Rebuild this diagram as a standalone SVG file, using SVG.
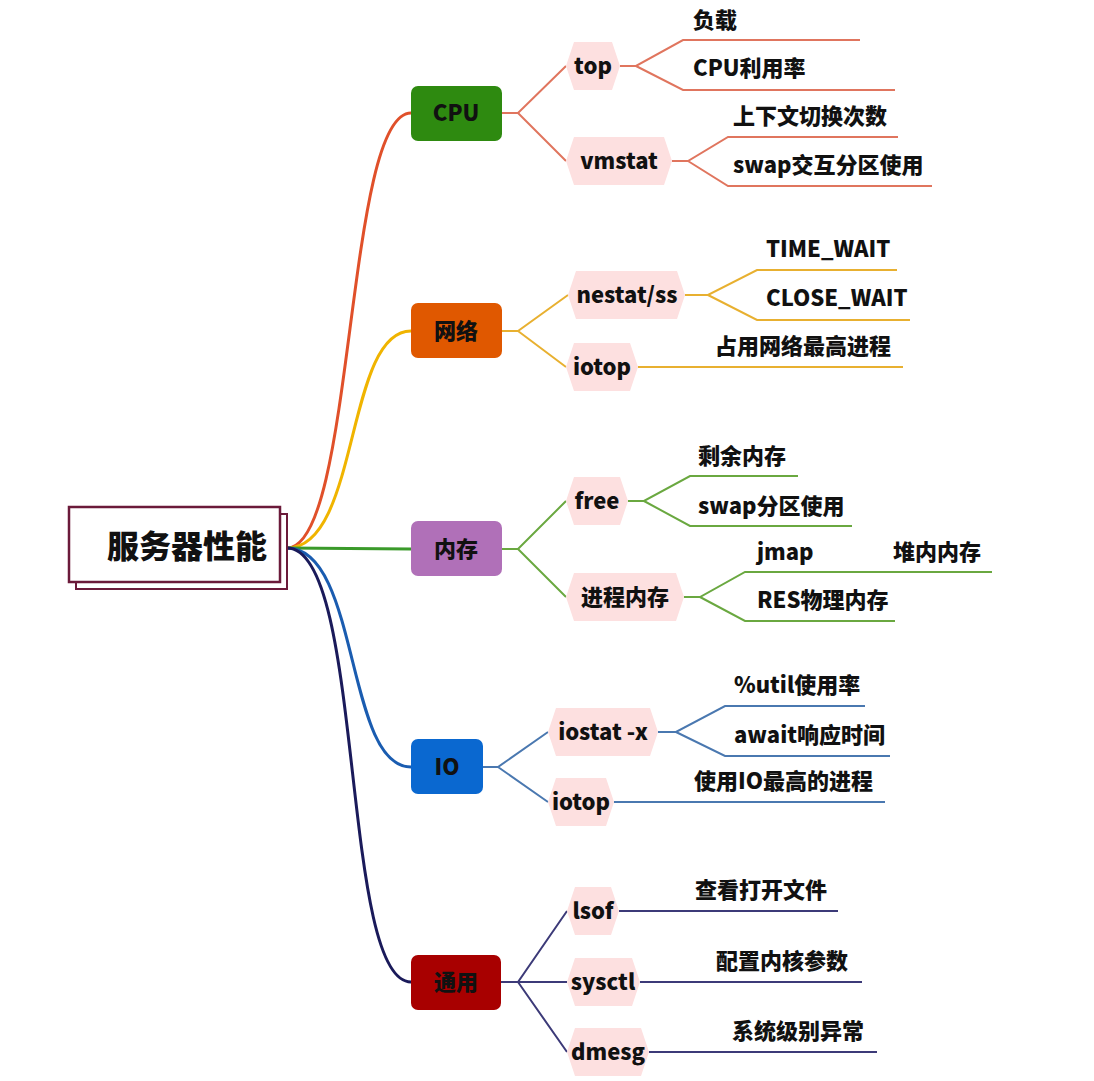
<svg xmlns="http://www.w3.org/2000/svg" width="1094" height="1081" viewBox="0 0 1094 1081">
<style>
text{font-family:"Noto Sans CJK SC","Noto Sans",sans-serif;font-weight:900;fill:#111}
.lbl{font-size:22px}
.hx{font-size:22px;text-anchor:middle}
.bx{font-size:22px;text-anchor:middle}
.hex{fill:#fde0e0}
.c{fill:none;stroke-width:2}
.r{fill:none;stroke-width:3}
.cpu{stroke:#e0755e}.net{stroke:#e8b030}.mem{stroke:#6aa840}.io{stroke:#4a78b0}.gen{stroke:#3c3a78}
</style>
<rect width="1094" height="1081" fill="#fff"/>
<g id="connectors">
<path class="r" stroke="#e0502a" d="M287,548 C355,548 345,113 411,113"/>
<path class="r" stroke="#f0b400" d="M287,548 C360,548 345,331 411,331"/>
<path class="r" stroke="#3a9a2a" d="M287,548 L411,549"/>
<path class="r" stroke="#1a5cb0" d="M287,548 C360,548 345,767 411,767"/>
<path class="r" stroke="#1a1a5a" d="M287,548 C365,548 340,982 411,982"/>
<path class="c cpu" d="M502,113 H518 L566,66 M518,113 L566,161"/>
<path class="c cpu" d="M620,66 H636 L683,40 H860 M636,66 L683,90 H895"/>
<path class="c cpu" d="M672,161 H688 L728,137 H898 M688,161 L728,186 H932"/>
<path class="c net" d="M502,331 H518 L568,295 M518,331 L566,367"/>
<path class="c net" d="M685,295 H708 L757,270 H897 M708,295 L757,320 H910"/>
<path class="c net" d="M638,367 H903"/>
<path class="c mem" d="M502,549 H518 L566,501 M518,549 L566,597"/>
<path class="c mem" d="M628,501 H644 L690,476 H798 M644,501 L690,526 H852"/>
<path class="c mem" d="M684,597 H700 L745,572 H992 M700,597 L745,621 H895"/>
<path class="c io" d="M483,767 H498 L548,732 M498,767 L548,802"/>
<path class="c io" d="M658,732 H676 L725,706 H865 M676,732 L725,756 H890"/>
<path class="c io" d="M614,802 H885"/>
<path class="c gen" d="M501,982 H518 L567,911 M518,982 H567 M518,982 L567,1052"/>
<path class="c gen" d="M619,911 H838 M640,982 H862 M649,1052 H877"/>
</g>
<g id="root">
<rect x="76" y="514" width="211" height="75" fill="#fff" stroke="#6b1a3a" stroke-width="2"/>
<rect x="69" y="507" width="211" height="75" fill="#fff" stroke="#6b1a3a" stroke-width="2.5"/>
<text x="187" y="558" style="font-size:32px;text-anchor:middle">服务器性能</text>
</g>
<g id="cpu"><rect x="411" y="86" width="91" height="55" rx="7" fill="#2e8a10"/><text class="bx" x="456" y="121">CPU</text></g>
<g id="net"><rect x="411" y="303" width="91" height="55" rx="7" fill="#e05800"/><text class="bx" x="456" y="339">网络</text></g>
<g id="mem"><rect x="411" y="521" width="91" height="55" rx="7" fill="#b070b8"/><text class="bx" x="456" y="557">内存</text></g>
<g id="io"><rect x="411" y="739" width="72" height="55" rx="7" fill="#0a68d0"/><text class="bx" x="447" y="775">IO</text></g>
<g id="gen"><rect x="411" y="955" width="90" height="55" rx="7" fill="#a80000"/><text class="bx" x="456" y="990">通用</text></g>
<g id="top"><polygon class="hex" points="574,42 612,42 620,66 612,90 574,90 566,66"/><text class="hx" x="593" y="74">top</text></g>
<g id="vmstat"><polygon class="hex" points="574,137 664,137 672,161 664,185 574,185 566,161"/><text class="hx" x="619" y="169">vmstat</text></g>
<g id="nestat"><polygon class="hex" points="576,271 677,271 685,295 677,319 576,319 568,295"/><text class="hx" x="627" y="303">nestat/ss</text></g>
<g id="iotop1"><polygon class="hex" points="574,343 630,343 638,367 630,391 574,391 566,367"/><text class="hx" x="602" y="375">iotop</text></g>
<g id="free"><polygon class="hex" points="574,477 620,477 628,501 620,525 574,525 566,501"/><text class="hx" x="597" y="509">free</text></g>
<g id="procmem"><polygon class="hex" points="574,573 676,573 684,597 676,621 574,621 566,597"/><text class="hx" x="625" y="605">进程内存</text></g>
<g id="iostat"><polygon class="hex" points="556,708 650,708 658,732 650,756 556,756 548,732"/><text class="hx" x="603" y="740">iostat -x</text></g>
<g id="iotop2"><polygon class="hex" points="556,778 606,778 614,802 606,826 556,826 548,802"/><text class="hx" x="581" y="810">iotop</text></g>
<g id="lsof"><polygon class="hex" points="575,887 611,887 619,911 611,935 575,935 567,911"/><text class="hx" x="593" y="919">lsof</text></g>
<g id="sysctl"><polygon class="hex" points="575,958 632,958 640,982 632,1006 575,1006 567,982"/><text class="hx" x="603" y="990">sysctl</text></g>
<g id="dmesg"><polygon class="hex" points="575,1028 641,1028 649,1052 641,1076 575,1076 567,1052"/><text class="hx" x="608" y="1060">dmesg</text></g>
<g id="leaves">
<text class="lbl" x="693" y="28">负载</text>
<text class="lbl" x="693" y="76">CPU利用率</text>
<text class="lbl" x="733" y="124">上下文切换次数</text>
<text class="lbl" x="733" y="173">swap交互分区使用</text>
<text class="lbl" x="766" y="257">TIME_WAIT</text>
<text class="lbl" x="766" y="306">CLOSE_WAIT</text>
<text class="lbl" x="715" y="354">占用网络最高进程</text>
<text class="lbl" x="698" y="464">剩余内存</text>
<text class="lbl" x="698" y="514">swap分区使用</text>
<text class="lbl" x="757" y="560">jmap</text>
<text class="lbl" x="893" y="560">堆内内存</text>
<text class="lbl" x="757" y="608">RES物理内存</text>
<text class="lbl" x="734" y="693">%util使用率</text>
<text class="lbl" x="734" y="743">await响应时间</text>
<text class="lbl" x="694" y="789">使用IO最高的进程</text>
<text class="lbl" x="695" y="898">查看打开文件</text>
<text class="lbl" x="716" y="969">配置内核参数</text>
<text class="lbl" x="732" y="1039">系统级别异常</text>
</g>
</svg>
